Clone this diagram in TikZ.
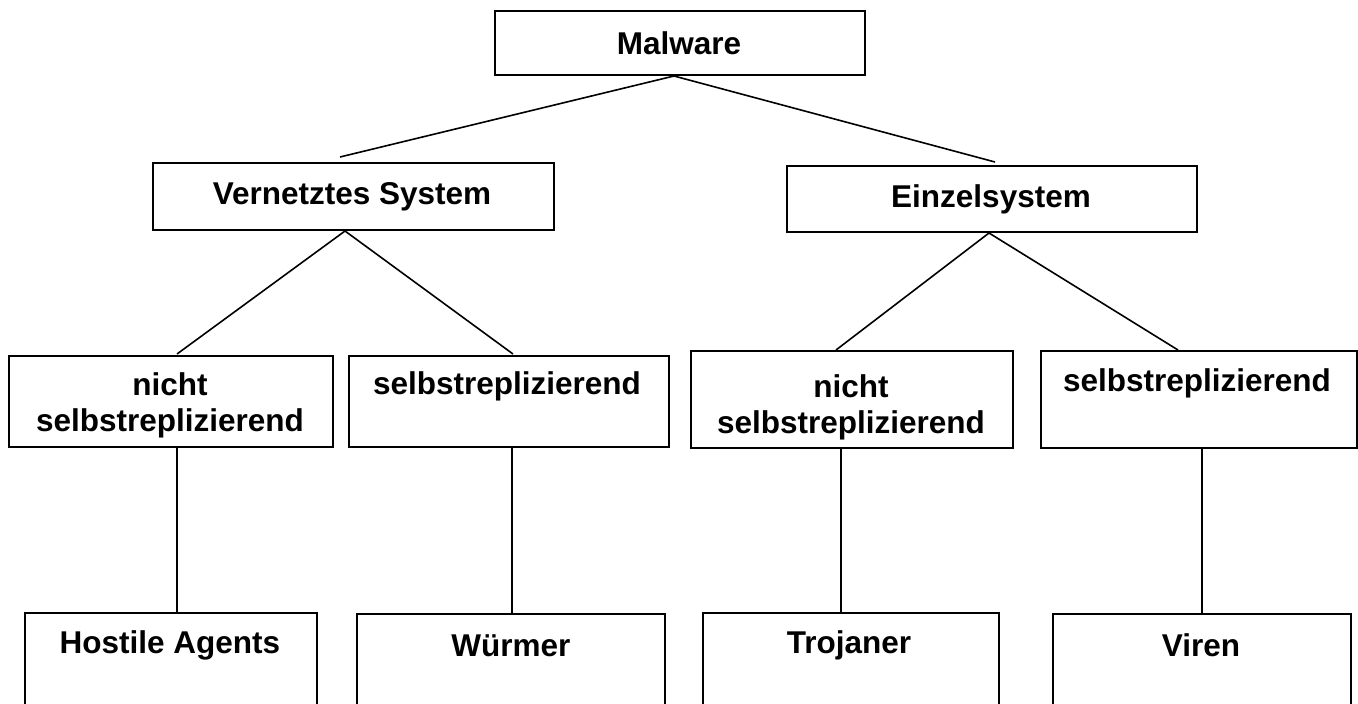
\documentclass[tikz,border=0pt]{standalone}
\usepackage{fontspec}
\setmainfont{Liberation Sans}
\begin{document}
\begin{tikzpicture}[x=1pt,y=-1pt,
  box/.style={draw, line width=2pt, rectangle, inner sep=0pt, anchor=north west},
  lab/.style={font=\fontsize{31.5}{36}\selectfont\bfseries, inner sep=0pt, anchor=base},
  conn/.style={line width=1.6pt}]
\useasboundingbox (0,0) rectangle (1358,704);
\clip (0,0) rectangle (1358,704);
\fill[white] (0,0) rectangle (1358,704);
% boxes
\node[box, minimum width=370pt, minimum height=64pt] (mal) at (494,10) {};
\node[box, minimum width=401pt, minimum height=67pt] (vern) at (152,162) {};
\node[box, minimum width=410pt, minimum height=66pt] (einz) at (786,165) {};
\node[box, minimum width=324pt, minimum height=91pt] (ln) at (8,355) {};
\node[box, minimum width=320pt, minimum height=91pt] (ls) at (348,355) {};
\node[box, minimum width=322pt, minimum height=97pt] (rn) at (690,350) {};
\node[box, minimum width=316pt, minimum height=97pt] (rs) at (1040,350) {};
\node[box, minimum width=292pt, minimum height=130pt] (ha) at (24,612) {};
\node[box, minimum width=308pt, minimum height=130pt] (wu) at (356,613) {};
\node[box, minimum width=296pt, minimum height=130pt] (tr) at (702,612) {};
\node[box, minimum width=298pt, minimum height=130pt] (vi) at (1052,613) {};
% texts
\node[lab] (tmal) at (679,54) {Malware};
\node[lab] (tvern) at (352,204) {Vernetztes System};
\node[lab] (teinz) at (991,207) {Einzelsystem};
\node[lab] (tln1) at (170,395) {nicht};
\node[lab] (tln2) at (170,431) {selbstreplizierend};
\node[lab] (tls) at (507,394) {selbstreplizierend};
\node[lab] (trn1) at (851,397) {nicht};
\node[lab] (trn2) at (851,433) {selbstreplizierend};
\node[lab] (trs) at (1197,391) {selbstreplizierend};
\node[lab] (tha) at (170,653) {Hostile Agents};
\node[lab] (twu) at (511,656) {Würmer};
\node[lab] (ttr) at (849,653) {Trojaner};
\node[lab] (tvi) at (1201,656) {Viren};
% connectors
\draw[conn] ([xshift=-6pt]mal.south) -- ([xshift=-13.5pt,yshift=5pt]vern.north);
\draw[conn] ([xshift=-6pt]mal.south) -- ([xshift=3pt,yshift=3pt]einz.north);
\draw[conn] ([xshift=-8.5pt]vern.south) -- ([xshift=6pt,yshift=1pt]ln.north);
\draw[conn] ([xshift=-8.5pt]vern.south) -- ([xshift=4pt,yshift=1pt]ls.north);
\draw[conn] ([xshift=-3pt]einz.south) -- ([xshift=-16pt]rn.north);
\draw[conn] ([xshift=-3pt]einz.south) -- ([xshift=-21pt]rs.north);
\draw[conn] ([xshift=6pt]ln.south) -- ([xshift=6pt]ha.north);
\draw[conn] ([xshift=3pt]ls.south) -- ([xshift=1pt]wu.north);
\draw[conn] ([xshift=-11pt]rn.south) -- ([xshift=-10pt]tr.north);
\draw[conn] ([xshift=3pt]rs.south) -- (vi.north);
\end{tikzpicture}
\end{document}
